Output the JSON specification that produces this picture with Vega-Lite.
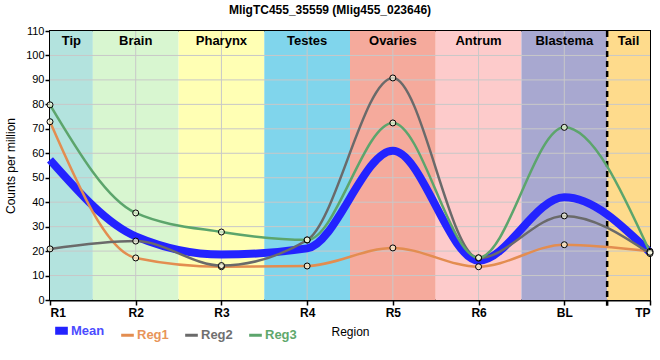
{
  "$schema": "https://vega.github.io/schema/vega-lite/v6.json",
  "width": 600,
  "height": 269,
  "autosize": "none",
  "padding": {"left": 50, "top": 31, "right": 10, "bottom": 60},
  "background": "white",
  "title": {"text": "MligTC455_35559 (Mlig455_023646)", "font": "Liberation Sans", "fontSize": 12, "fontWeight": "bold", "color": "black", "anchor": "middle", "dx": -20, "offset": 8},
  "config": {
    "font": "Liberation Sans",
    "view": {"stroke": "black", "strokeWidth": 2},
    "legend": {"padding": 0}
  },
  "datasets": {
    "bands": [
      {"label": "Tip", "start": 0, "end": 0.5, "mid": 0.25},
      {"label": "Brain", "start": 0.5, "end": 1.5, "mid": 1},
      {"label": "Pharynx", "start": 1.5, "end": 2.5, "mid": 2},
      {"label": "Testes", "start": 2.5, "end": 3.5, "mid": 3},
      {"label": "Ovaries", "start": 3.5, "end": 4.5, "mid": 4},
      {"label": "Antrum", "start": 4.5, "end": 5.5, "mid": 5},
      {"label": "Blastema", "start": 5.5, "end": 6.5, "mid": 6},
      {"label": "Tail", "start": 6.5, "end": 7, "mid": 6.75}
    ],
    "series": [
      {"series": "Mean", "x": 0, "value": 57.3},
      {"series": "Mean", "x": 1, "value": 26.0},
      {"series": "Mean", "x": 2, "value": 18.6},
      {"series": "Mean", "x": 3, "value": 21.1},
      {"series": "Mean", "x": 4, "value": 61.0},
      {"series": "Mean", "x": 5, "value": 16.1},
      {"series": "Mean", "x": 6, "value": 42.0},
      {"series": "Mean", "x": 7, "value": 19.5},
      {"series": "Reg1", "x": 0, "value": 72.9},
      {"series": "Reg1", "x": 1, "value": 17.2},
      {"series": "Reg1", "x": 2, "value": 13.6},
      {"series": "Reg1", "x": 3, "value": 13.9},
      {"series": "Reg1", "x": 4, "value": 21.3},
      {"series": "Reg1", "x": 5, "value": 13.6},
      {"series": "Reg1", "x": 6, "value": 22.6},
      {"series": "Reg1", "x": 7, "value": 19.9},
      {"series": "Reg2", "x": 0, "value": 20.9},
      {"series": "Reg2", "x": 1, "value": 24.1},
      {"series": "Reg2", "x": 2, "value": 14.1},
      {"series": "Reg2", "x": 3, "value": 24.5},
      {"series": "Reg2", "x": 4, "value": 90.8},
      {"series": "Reg2", "x": 5, "value": 17.1},
      {"series": "Reg2", "x": 6, "value": 34.4},
      {"series": "Reg2", "x": 7, "value": 19.0},
      {"series": "Reg3", "x": 0, "value": 79.8},
      {"series": "Reg3", "x": 1, "value": 35.6},
      {"series": "Reg3", "x": 2, "value": 27.8},
      {"series": "Reg3", "x": 3, "value": 24.6},
      {"series": "Reg3", "x": 4, "value": 72.4},
      {"series": "Reg3", "x": 5, "value": 17.3},
      {"series": "Reg3", "x": 6, "value": 70.6},
      {"series": "Reg3", "x": 7, "value": 19.5}
    ]
  },
  "encoding": {
    "x": {"type": "quantitative", "scale": {"domain": [0, 7], "nice": false, "zero": false},
      "axis": {"values": [0, 1, 2, 3, 4, 5, 6, 7], "tickCount": 20, "labelExpr": "['R1','R2','R3','R4','R5','R6','BL','TP'][datum.value]", "title": "Region", "grid": false,
        "labelFont": "Liberation Sans", "labelFontSize": 12, "labelFontWeight": "bold", "labelColor": "black", "labelPadding": 2, "labelOverlap": false,
        "tickColor": "black", "tickSize": 5, "tickWidth": 1.5, "domainColor": "black", "domainWidth": 2,
        "titleFont": "Liberation Sans", "titleFontSize": 12, "titleFontWeight": "normal", "titleColor": "black", "titlePadding": 8}},
    "y": {"type": "quantitative", "scale": {"domain": [0, 110], "nice": false, "zero": true},
      "axis": {"values": [0, 10, 20, 30, 40, 50, 60, 70, 80, 90, 100, 110], "tickCount": 20, "title": "Counts per million", "grid": false,
        "labelFont": "Liberation Sans", "labelFontSize": 11, "labelColor": "black", "labelPadding": 1, "labelOverlap": false,
        "tickColor": "black", "tickSize": 5, "tickWidth": 1.5, "domainColor": "black", "domainWidth": 2,
        "titleFont": "Liberation Sans", "titleFontSize": 12, "titleFontWeight": "normal", "titleColor": "black", "titlePadding": 8}}
  },
  "layer": [
    {
      "data": {"name": "bands"},
      "mark": {"type": "rect"},
      "encoding": {
        "x": {"field": "start", "type": "quantitative"},
        "x2": {"field": "end"},
        "y": {"datum": 0, "type": "quantitative"},
        "y2": {"datum": 110},
        "fill": {"field": "label", "type": "nominal", "legend": null,
          "scale": {"domain": ["Tip", "Brain", "Pharynx", "Testes", "Ovaries", "Antrum", "Blastema", "Tail"],
            "range": ["#b3e3de", "#d8f6d0", "#ffffb4", "#80d5ec", "#f5aa9c", "#fdcbcb", "#a8a8d0", "#fedb8c"]}}
      }
    },
    {
      "data": {"values": [{"g": 10}, {"g": 20}, {"g": 30}, {"g": 40}, {"g": 50}, {"g": 60}, {"g": 70}, {"g": 80}, {"g": 90}, {"g": 100}]},
      "mark": {"type": "rule", "color": "#c8c8c8", "strokeWidth": 1},
      "encoding": {"x": null, "y": {"field": "g", "type": "quantitative"}}
    },
    {
      "data": {"values": [{"g": 1}, {"g": 2}, {"g": 3}, {"g": 4}, {"g": 5}, {"g": 6}]},
      "mark": {"type": "rule", "color": "#c8c8c8", "strokeWidth": 1},
      "encoding": {"y": null, "x": {"field": "g", "type": "quantitative"}}
    },
    {
      "data": {"values": [{"b": 6.5}]},
      "mark": {"type": "rule", "color": "black", "strokeWidth": 2.5, "strokeDash": [6, 4]},
      "encoding": {"x": {"field": "b", "type": "quantitative"}, "y": {"datum": 110, "type": "quantitative"}, "y2": {"datum": -2.4}}
    },
    {
      "data": {"name": "bands"},
      "mark": {"type": "text", "font": "Liberation Sans", "fontSize": 13, "fontWeight": "bold", "color": "black", "baseline": "middle", "align": "center"},
      "encoding": {"x": {"field": "mid", "type": "quantitative"}, "y": {"datum": 106, "type": "quantitative"}, "text": {"field": "label"}}
    },
    {
      "data": {"name": "series"},
      "transform": [{"filter": "datum.series === 'Mean'"}],
      "mark": {"type": "line", "interpolate": "monotone", "strokeWidth": 8},
      "encoding": {
        "x": {"field": "x", "type": "quantitative"},
        "y": {"field": "value", "type": "quantitative"},
        "color": {"field": "series", "type": "nominal",
          "scale": {"domain": ["Mean", "Reg1", "Reg2", "Reg3"], "range": ["#2323ff", "#e38d50", "#6a6a6a", "#5ca56c"]},
          "legend": {"title": null, "orient": "none", "legendX": 5, "legendY": 293, "direction": "horizontal",
            "symbolType": "stroke", "symbolSize": 160, "labelFont": "Liberation Sans", "labelFontSize": 13, "labelFontWeight": "bold",
            "labelOffset": 3, "columnPadding": 10,
            "symbolStrokeWidth": {"expr": "datum.value === 'Mean' ? 8 : 3"},
            "labelColor": {"expr": "datum.value === 'Mean' ? '#4b4bff' : datum.value === 'Reg1' ? '#e8955a' : datum.value === 'Reg2' ? '#707070' : '#5fa86c'"}}}
      }
    },
    {
      "data": {"name": "series"},
      "transform": [{"filter": "datum.series !== 'Mean'"}],
      "mark": {"type": "line", "interpolate": "monotone", "strokeWidth": 2.5},
      "encoding": {
        "x": {"field": "x", "type": "quantitative"},
        "y": {"field": "value", "type": "quantitative"},
        "color": {"field": "series", "type": "nominal"}
      }
    },
    {
      "data": {"name": "series"},
      "transform": [{"filter": "datum.series !== 'Mean'"}],
      "mark": {"type": "circle", "size": 36, "fill": "#ffffe6", "fillOpacity": 0.65, "stroke": "black", "strokeWidth": 1, "opacity": 1},
      "encoding": {
        "x": {"field": "x", "type": "quantitative"},
        "y": {"field": "value", "type": "quantitative"}
      }
    }
  ]
}
